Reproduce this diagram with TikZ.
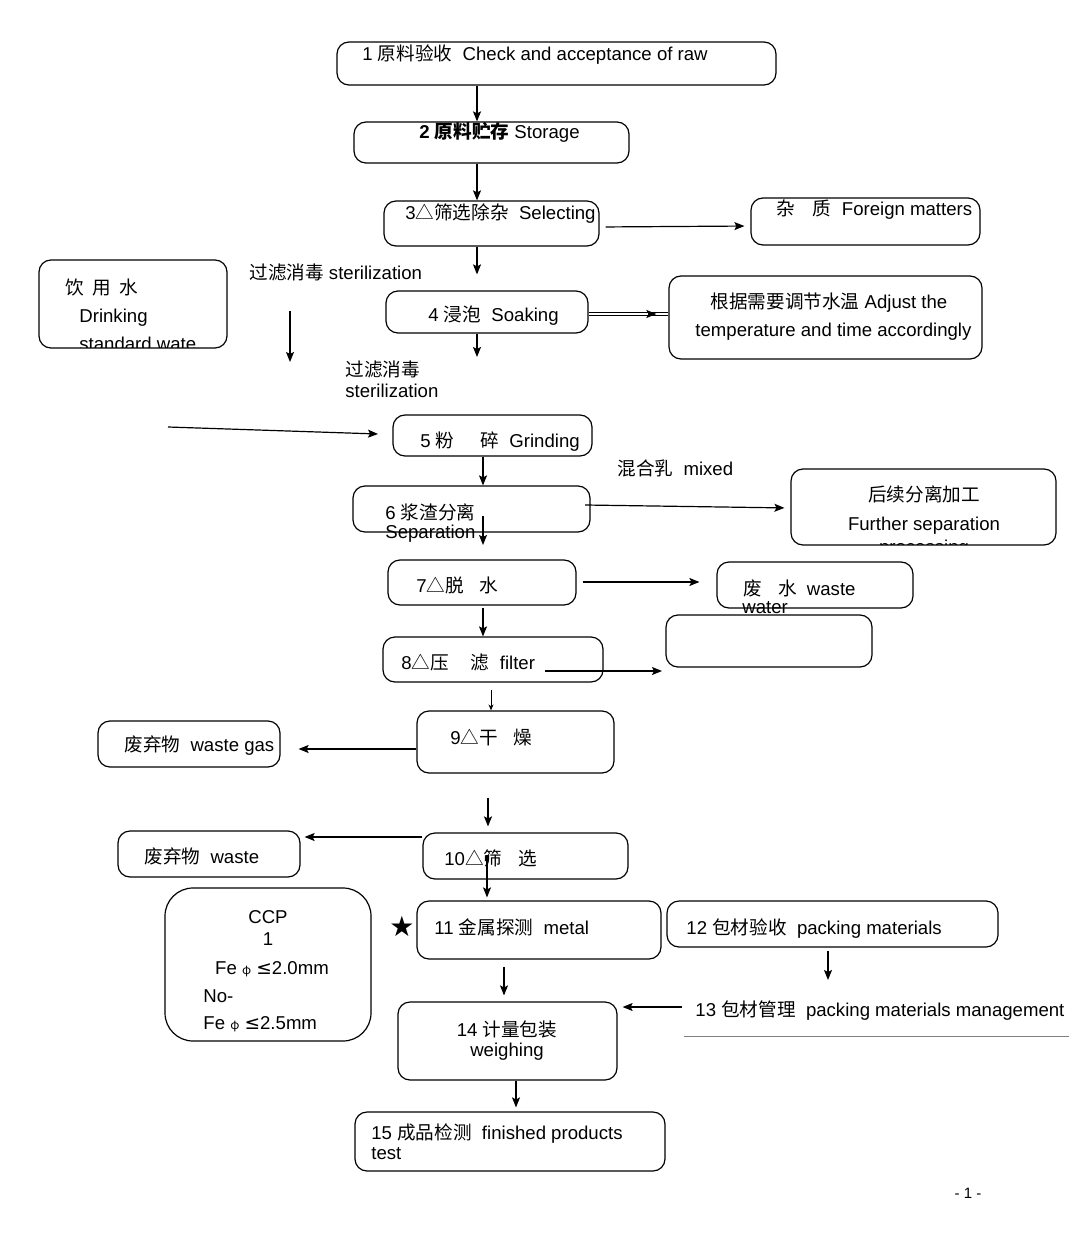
\documentclass[tikz,border=0pt]{standalone}
\usepackage{fontspec}
\setmainfont{Liberation Sans}
\newfontfamily\cjk{Noto Sans CJK SC}
\newfontfamily\djv{DejaVu Sans}
\usetikzlibrary{arrows.meta,fit}
\newcommand\zh[1]{{\cjk #1}}
\begin{document}
\begin{tikzpicture}[x=0.5pt,y=-0.5pt,font=\fontsize{9.3}{11}\selectfont,
  box/.style={draw,rounded corners=6pt,line width=0.6pt,inner sep=0pt},
  txt/.style={inner sep=0pt,anchor=base west},
  ctxt/.style={inner sep=0pt,anchor=base},
  arr/.style={-{Stealth[length=5pt,width=4pt,inset=1pt]},line width=0.6pt}]
\useasboundingbox (0,0) rectangle (1080,1241);

% ---------- boxes ----------
\node[box,fit={(337,42)(776,85)}] (b1) {};
\node[box,fit={(354,122)(629,163)}] (b2) {};
\node[box,fit={(384,201)(599,246)}] (b3) {};
\node[box,fit={(751,198)(980,245)}] (bF) {};
\node[box,fit={(386,291)(588,333)}] (b4) {};
\node[box,fit={(669,276)(982,359)}] (bA) {};
\node[box,fit={(39,260)(227,348)}] (bW) {};
\node[box,fit={(393,415)(592,456)}] (b5) {};
\node[box,fit={(353,486)(590,532)}] (b6) {};
\node[box,fit={(791,469)(1056,545)}] (bFu) {};
\node[box,fit={(388,560)(576,605)}] (b7) {};
\node[box,fit={(717,562)(913,608)}] (bWW) {};
\node[box,fit={(383,637)(603,682)}] (b8) {};
\node[box,fit={(666,615)(872,667)}] (bE) {};
\node[box,fit={(417,711)(614,773)}] (b9) {};
\node[box,fit={(98,721)(280,767)}] (bG) {};
\node[box,fit={(423,833)(628,879)}] (b10) {};
\node[box,fit={(118,831)(300,877)}] (bWs) {};
\node[box,fit={(417,901)(661,959)}] (b11) {};
\node[box,rounded corners=14pt,fit={(165,888)(371,1041)}] (bC) {};
\node[box,fit={(667,901)(998,947)}] (b12) {};
\node[box,fit={(398,1002)(617,1080)}] (b14) {};
\node[box,fit={(355,1112)(665,1171)}] (b15) {};

% ---------- texts ----------
\node[txt] (t1) at (362,61) {1 \zh{原料验收}\ \ Check and acceptance of raw};
\node[txt] (t2) at (419,139) {\bfseries 2 \zh{原料贮存} \mdseries Storage};
\node[txt] (t3) at (405,220) {3\zh{△筛选除杂}\ \ Selecting};
\node[txt] (tF) at (776,216) {\zh{杂}\hspace{9pt}\zh{质}\ \ Foreign matters};
\node[txt] (t4) at (428,321) {4 \zh{浸泡}\ \ Soaking};
\node[ctxt] (tA1) at (829,308) {\zh{根据需要调节水温} Adjust the};
\node[txt] (tA2) at (695,336) {temperature and time accordingly};
\node[txt] (tS1) at (249,279) {\zh{过滤消毒} sterilization};
\node[txt] (tS2) at (345,376) {\zh{过滤消毒}};
\node[txt] (tS3) at (345,397) {sterilization};
\node[txt] (tW1) at (65,294) {\zh{饮\ \ 用\ \ 水}};
\node[txt] (tW2) at (79,322) {Drinking};
\begin{scope}
  \clip (39,260) rectangle (227,347);
  \node[txt] (tW3) at (79,350) {standard wate};
\end{scope}
\node[txt] (t5) at (420,447) {5 \zh{粉}\hspace{13pt}\zh{碎}\ \ Grinding};
\node[txt] (tM) at (617,475) {\zh{混合乳}\ \ mixed};
\node[txt] (t6a) at (385,519) {6 \zh{浆渣分离}};
\node[txt] (t6b) at (385,538) {Separation};
\node[ctxt] (tFu1) at (924,501) {\zh{后续分离加工}};
\node[ctxt] (tFu2) at (924,530) {Further separation};
\begin{scope}
  \clip (791,469) rectangle (1056,544);
  \node[ctxt] (tFu3) at (924,553) {processing};
\end{scope}
\node[txt] (t7) at (416,592) {7\zh{△脱}\hspace{8pt}\zh{水}};
\node[txt] (tWW1) at (743,595) {\zh{废}\hspace{8pt}\zh{水}\ \ waste};
\node[txt] (tWW2) at (742,613) {water};
\node[txt] (t8) at (401,669) {8\zh{△压}\hspace{11pt}\zh{滤}\ \ filter};
\node[txt] (t9) at (450,744) {9\zh{△干}\hspace{8pt}\zh{燥}};
\node[txt] (tG) at (124,751) {\zh{废弃物}\ \ waste gas};
\node[txt] (t10) at (444,865) {10\zh{△筛}\hspace{8pt}\zh{选}};
\node[txt] (tWs) at (144,863) {\zh{废弃物}\ \ waste};
\node[txt] (t11) at (434,934) {11 \zh{金属探测}\ \ metal};
\node[inner sep=0pt,anchor=base] (star) at (402,936) {\djv\fontsize{14}{14}\selectfont ★};
\node[ctxt] (tC1) at (268,923) {CCP};
\node[ctxt] (tC2) at (268,945) {1};
\node[ctxt] (tC3) at (272,974) {Fe {\cjk\fontsize{6}{6}\selectfont φ} {\djv ≤}2.0mm};
\node[txt] (tC4) at (203,1002) {No-};
\node[txt] (tC5) at (203,1029) {Fe {\cjk\fontsize{6}{6}\selectfont φ} {\djv ≤}2.5mm};
\node[txt] (t12) at (686,934) {12 \zh{包材验收}\ \ packing materials};
\node[txt] (t13) at (695,1016) {13 \zh{包材管理}\ \ packing materials management};
\node[ctxt] (t14a) at (507,1036) {14 \zh{计量包装}};
\node[ctxt] (t14b) at (507,1056) {weighing};
\node[txt] (t15a) at (371,1139) {15 \zh{成品检测}\ \ finished products};
\node[txt] (t15b) at (371,1159) {test};
\node[ctxt,font=\fontsize{7.5}{9}\selectfont] (pg) at (968,1198) {- 1 -};

% ---------- free ends ----------
\coordinate (c4e) at (477,357);
\coordinate (cw1) at (290,311);
\coordinate (cw2) at (290,362);
\coordinate (cl1) at (168,427);
\coordinate (cl2) at (378,434);
\coordinate (c6s) at (585,505);
\coordinate (c6d) at (483,516);
\coordinate (c8s) at (545,671);
\coordinate (c8e) at (662,671);
\coordinate (c10s) at (487,855);
\coordinate (c13s) at (682,1007);

% ---------- connectors ----------
\draw[arr] (b1.south -| 477,0) -- (b2.north -| 477,0);
\draw[arr] (b2.south -| 477,0) -- (b3.north -| 477,0);
\draw[arr,shorten <=3pt,shorten >=3pt] (b3.east |- 0,227) -- (bF.west |- 0,226);
\draw[arr,shorten >=8pt] (b3.south -| 477,0) -- (b4.north -| 477,0);
\draw[line width=0.6pt] (b4.east |- 0,312.5) -- (bA.west |- 0,312.5);
\draw[line width=0.6pt] (b4.east |- 0,315.5) -- (bA.west |- 0,315.5);
\draw[arr] (bA.west |- 0,314) ++(-20,0) -- ++(8,0);
\draw[arr] (b4.south -| 477,0) -- (c4e);
\draw[arr] (cw1) -- (cw2);
\draw[arr] (cl1) -- (cl2);
\draw[arr] (b5.south -| 483,0) -- (b6.north -| 483,0);
\draw[arr,shorten >=3pt] (c6s) -- (bFu.west |- 0,508);
\draw[arr] (c6d) -- (483,545);
\draw[arr,shorten <=3pt,shorten >=8.5pt] (b7.east |- 0,582) -- (bWW.west |- 0,582);
\draw[arr,shorten <=1pt] (b7.south -| 483,0) -- (b8.north -| 483,0);
\draw[arr] (c8s) -- (c8e);
\draw[line width=0.5pt,-{Stealth[length=3pt,width=2.5pt]},shorten <=3.5pt,shorten >=0pt] (b8.south -| 491,0) -- (b9.north -| 491,0);
\draw[arr,shorten >=9pt] (b9.west |- 0,749) -- (bG.east |- 0,749);
\draw[arr,shorten <=12pt,shorten >=3pt] (b9.south -| 488,0) -- (b10.north -| 488,0);
\draw[arr,shorten >=2pt] (b10.west |- 0,837) -- (bWs.east |- 0,837);
\draw[arr,shorten >=1.5pt] (c10s) -- (b11.north -| 487,0);
\draw[arr,shorten <=3.5pt,shorten >=3pt] (b11.south -| 504,0) -- (b14.north -| 504,0);
\draw[arr,shorten <=1.5pt] (b12.south -| 828,0) -- (828,980);
\draw[arr,shorten >=2.5pt] (c13s) -- (b14.east |- 0,1007);
\draw[arr,shorten >=2pt] (b14.south -| 516,0) -- (b15.north -| 516,0);
\draw[gray,line width=0.5pt] (684,1036) -- (1069,1036);
\end{tikzpicture}
\end{document}
